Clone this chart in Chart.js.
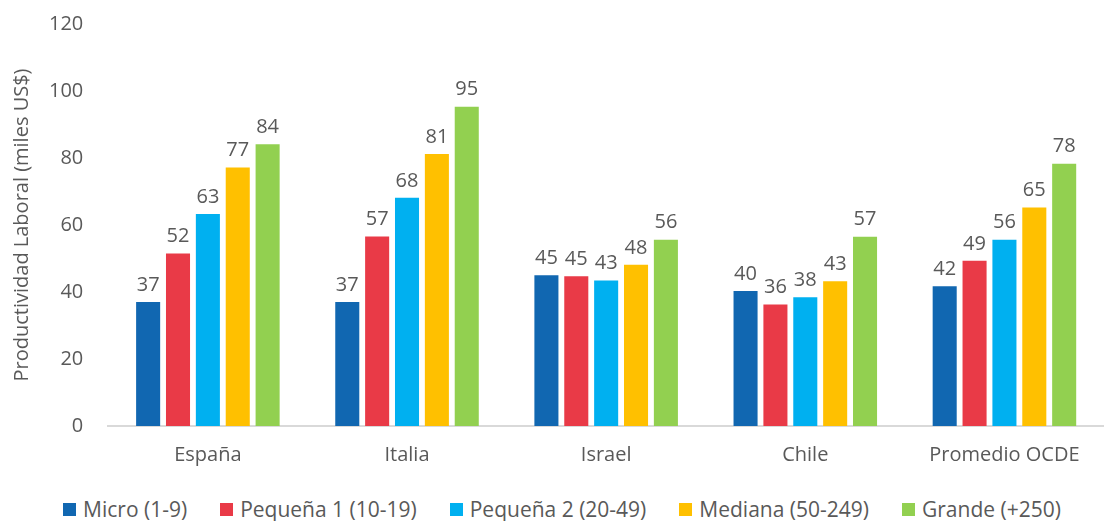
<!DOCTYPE html>
<html>
<head>
<meta charset="utf-8">
<title>Productividad laboral por tamaño de empresa</title>
<style>
  html, body { margin: 0; padding: 0; background: #fff; overflow: hidden; }
  #wrap { width: 1104px; height: 497px; margin-top: -13px; }
  #legend-container { width: 1104px; height: 40px; }
</style>
</head>
<body>
<script src="https://cdn.jsdelivr.net/npm/chart.js@4"></script>
<div id="wrap"><canvas id="myChart"></canvas></div>
<div id="legend-container"></div>
<script>
const PAISES = ['España', 'Italia', 'Israel', 'Chile', 'Promedio OCDE'];
const MICRO = [37.0, 37.0, 45.0, 40.3, 41.7];
const PEQUENA1 = [51.5, 56.6, 44.7, 36.3, 49.3];
const PEQUENA2 = [63.3, 68.1, 43.4, 38.4, 55.6];
const MEDIANA = [77.2, 81.2, 48.1, 43.2, 65.2];
const GRANDE = [84.1, 95.3, 55.6, 56.5, 78.3];
const Y_TICKS = [0, 20, 40, 60, 80, 100, 120];

const FONT = "'Open Sans', 'Noto Sans', sans-serif";
const GRIS = '#595959';

// etiquetas de valor encima de cada barra
const valueLabels = {
  id: 'valueLabels',
  afterDatasetsDraw(chart) {
    const ctx = chart.ctx;
    ctx.save();
    ctx.font = '20px ' + FONT;
    ctx.fillStyle = GRIS;
    ctx.textAlign = 'center';
    ctx.textBaseline = 'bottom';
    chart.data.datasets.forEach((ds, i) => {
      chart.getDatasetMeta(i).data.forEach((bar, j) => {
        ctx.fillText(Math.round(ds.data[j]), bar.x, bar.y - 7);
      });
    });
    ctx.restore();
  }
};

// leyenda en HTML debajo del gráfico
const htmlLegend = {
  id: 'htmlLegend',
  afterUpdate(chart) {
    const box = document.getElementById('legend-container');
    box.innerHTML = '';
    const ul = document.createElement('ul');
    ul.style.cssText = 'display:flex;justify-content:center;align-items:center;margin:0;' +
      'padding:12px 0 0 20px;list-style:none;gap:33px;';
    chart.options.plugins.legend.labels.generateLabels(chart).forEach(item => {
      const li = document.createElement('li');
      li.style.cssText = 'display:flex;align-items:center;';
      const sq = document.createElement('span');
      sq.style.cssText = 'display:inline-block;width:13px;height:13px;margin-right:7px;background:' + item.fillStyle;
      const txt = document.createElement('span');
      txt.style.cssText = 'font:21px ' + FONT + ';color:' + GRIS + ';line-height:26px;';
      txt.textContent = item.text;
      li.appendChild(sq);
      li.appendChild(txt);
      ul.appendChild(li);
    });
    box.appendChild(ul);
  }
};

const serie = (label, data, color) => ({
  label: label,
  data: data,
  backgroundColor: color,
  borderWidth: 0,
  categoryPercentage: 0.75,
  barPercentage: 0.805
});

const data = {
  labels: PAISES,
  datasets: [
    serie('Micro (1-9)', MICRO, '#1167B1'),
    serie('Pequeña 1 (10-19)', PEQUENA1, '#E93A47'),
    serie('Pequeña 2 (20-49)', PEQUENA2, '#00B0F0'),
    serie('Mediana (50-249)', MEDIANA, '#FFC000'),
    serie('Grande (+250)', GRANDE, '#92D050')
  ]
};

const config = {
  type: 'bar',
  data: data,
  options: {
    responsive: true,
    maintainAspectRatio: false,
    animation: false,
    layout: { padding: { top: 0, right: 0, left: 10, bottom: 0 } },
    scales: {
      x: {
        grid: { display: false, drawTicks: false },
        border: { color: '#D9D9D9', width: 2 },
        ticks: { color: GRIS, font: { family: FONT, size: 20 }, padding: 17 }
      },
      y: {
        min: 0,
        max: 120,
        afterBuildTicks(axis) { axis.ticks = Y_TICKS.map(v => ({ value: v })); },
        grid: { display: false, drawTicks: false },
        border: { display: false },
        ticks: { color: GRIS, font: { family: FONT, size: 20 }, padding: 25 },
        title: {
          display: true,
          text: 'Productividad Laboral (miles US$)',
          color: GRIS,
          font: { family: FONT, size: 20 },
          padding: { top: 0, bottom: -10 }
        }
      }
    },
    plugins: {
      legend: { display: false },
      tooltip: { enabled: false }
    }
  },
  plugins: [valueLabels, htmlLegend]
};

const ctx = document.getElementById('myChart');
const myChart = new Chart(ctx, config);
</script>
</body>
</html>
